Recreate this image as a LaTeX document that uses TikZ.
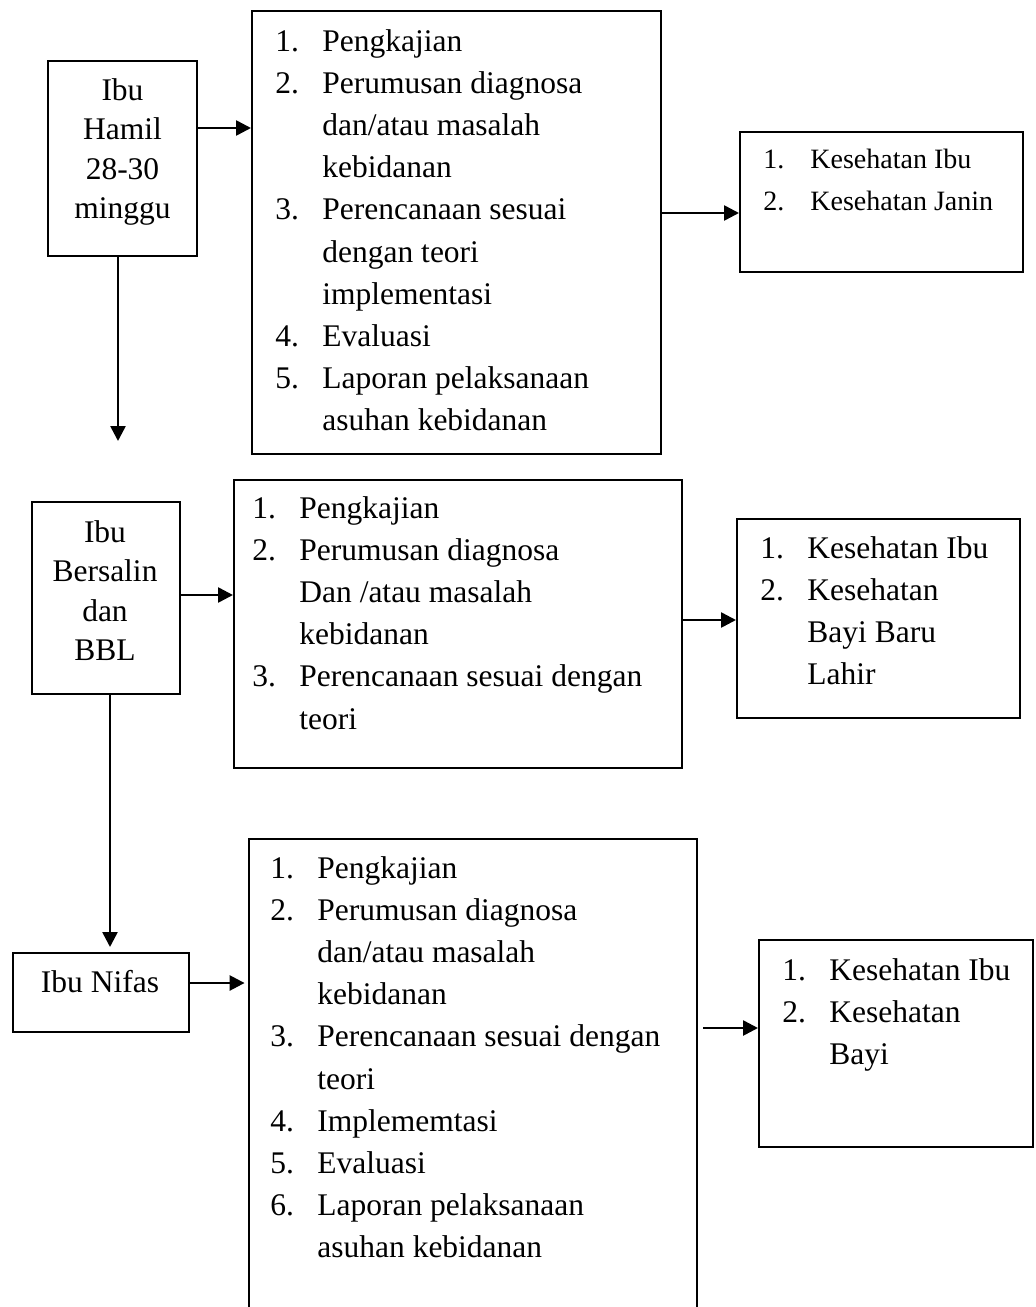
\documentclass[tikz,border=0pt]{standalone}
\usepackage{fontspec}
\setmainfont{Liberation Serif}
\usetikzlibrary{arrows.meta, fit}

\newcommand{\daftar}[1]{\begin{tabular}[t]{@{}p{23.5pt}@{}l@{}}#1\end{tabular}}
\newcommand{\tengah}[1]{\begin{tabular}[t]{@{}c@{}}#1\end{tabular}}

\begin{document}
\begin{tikzpicture}[x=0.5pt, y=-0.5pt,
  box/.style={draw, line width=1pt, inner sep=0pt},
  isi/.style={anchor=base west, inner sep=0pt, font=\fontsize{15.75}{21.1}\selectfont},
  isikecil/.style={isi, font=\fontsize{14}{21}\selectfont},
  judul/.style={anchor=base, inner sep=0pt, font=\fontsize{15.75}{19.8}\selectfont},
  panah/.style={-{Triangle[length=7.5pt, width=7.5pt]}, line width=1.3pt}]
  \useasboundingbox (0,0) rectangle (1035,1307);

  % kolom kiri
  \node[box, fit={(48,61) (197,256)}] (hamil) {};
  \node[box, fit={(32,502) (180,694)}] (bersalin) {};
  \node[box, fit={(13,953) (189,1032)}] (nifas) {};
  \node[judul] (t-hamil) at (122.5,100) {\tengah{Ibu\\Hamil\\28-30\\minggu}};
  \node[judul] (t-bersalin) at (105,542) {\tengah{Ibu\\Bersalin\\dan\\BBL}};
  \node[judul] (t-nifas) at (100,992) {Ibu Nifas};

  % kolom tengah
  \node[box, fit={(252,11) (661,454)}] (proses1) {};
  \node[box, fit={(234,480) (682,768)}] (proses2) {};
  \node[inner sep=0pt, fit={(249,839) (697,1307)}] (proses3) {};
  \draw[line width=1pt] (proses3.south west) |- (proses3.north east) -- (proses3.south east);
  \node[isi] (t-proses1) at (275,51) {\daftar{1. & Pengkajian\\
    2. & Perumusan diagnosa\\ & dan/atau masalah\\ & kebidanan\\
    3. & Perencanaan sesuai\\ & dengan teori\\ & implementasi\\
    4. & Evaluasi\\
    5. & Laporan pelaksanaan\\ & asuhan kebidanan}};
  \node[isi] (t-proses2) at (252,518) {\daftar{1. & Pengkajian\\
    2. & Perumusan diagnosa\\ & Dan /atau masalah\\ & kebidanan\\
    3. & Perencanaan sesuai dengan\\ & teori}};
  \node[isi] (t-proses3) at (270,878) {\daftar{1. & Pengkajian\\
    2. & Perumusan diagnosa\\ & dan/atau masalah\\ & kebidanan\\
    3. & Perencanaan sesuai dengan\\ & teori\\
    4. & Implememtasi\\
    5. & Evaluasi\\
    6. & Laporan pelaksanaan\\ & asuhan kebidanan}};

  % kolom kanan
  \node[box, fit={(740,132) (1023,272)}] (hasil1) {};
  \node[box, fit={(737,519) (1020,718)}] (hasil2) {};
  \node[box, fit={(759,940) (1033,1147)}] (hasil3) {};
  \node[isikecil] (t-hasil1) at (763,168) {\daftar{1. & Kesehatan Ibu\\ 2. & Kesehatan Janin}};
  \node[isi] (t-hasil2) at (760,558) {\daftar{1. & Kesehatan Ibu\\ 2. & Kesehatan\\ & Bayi Baru\\ & Lahir}};
  \node[isi] (t-hasil3) at (782,980) {\daftar{1. & Kesehatan Ibu\\ 2. & Kesehatan\\ & Bayi}};

  % panah
  \coordinate (bawah1) at (118,441);
  \draw[panah] (hamil.east |- 0,128) -- (proses1.west |- 0,128);
  \draw[panah] (hamil.south -| bawah1) -- (bawah1);
  \draw[panah] (proses1.east |- 0,213) -- (hasil1.west |- 0,213);
  \draw[panah] (bersalin.east |- 0,595) -- (proses2.west |- 0,595);
  \draw[panah, shorten >=2.5pt] (bersalin.south -| 110,0) -- (nifas.north -| 110,0);
  \draw[panah] (proses2.east |- 0,620) -- (hasil2.west |- 0,620);
  \draw[panah, shorten >=2pt] (nifas.east |- 0,983) -- (proses3.west |- 0,983);
  \draw[panah, shorten <=3pt] (proses3.east |- 0,1028) -- (hasil3.west |- 0,1028);
\end{tikzpicture}
\end{document}
